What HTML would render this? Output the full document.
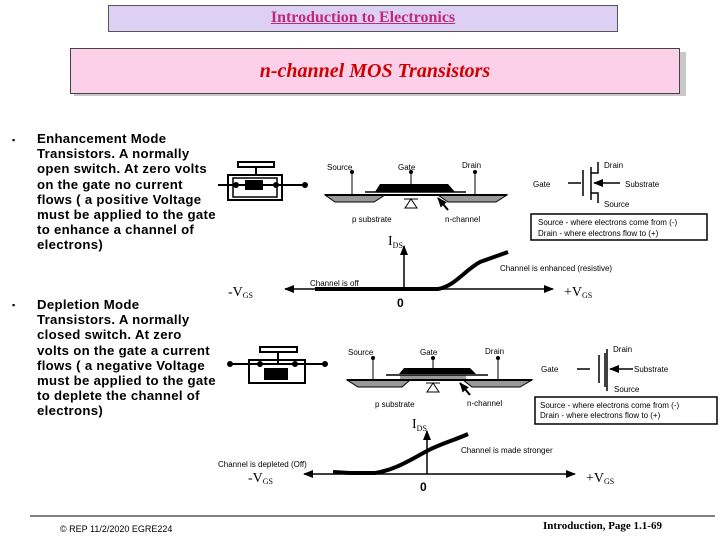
<!DOCTYPE html><html><head><style>
body{margin:0;width:720px;height:540px;background:#fff;position:relative;overflow:hidden;font-family:"Liberation Sans",sans-serif}
.t{position:absolute;color:#000}
</style></head><body>
<div style="position:absolute;left:108px;top:5px;width:508px;height:25px;background:#ddd0f4;border:1px solid #555;"></div>
<div class="t" style="left:108px;top:9px;width:510px;text-align:center;font-family:'Liberation Serif',serif;font-weight:bold;font-size:16px;color:#c0287a;text-decoration:underline">Introduction to Electronics</div>
<div style="position:absolute;left:74px;top:52px;width:612px;height:44px;background:#c8c8c8"></div>
<div style="position:absolute;left:70px;top:48px;width:608px;height:44px;background:#fbd0e8;border:1px solid #444"></div>
<div class="t" style="left:70px;top:60px;width:610px;text-align:center;font-family:'Liberation Serif',serif;font-weight:bold;font-style:italic;font-size:20px;color:#d00000">n-channel MOS Transistors</div>
<div class="t" style="left:12px;top:135px;font-size:9px">▪</div>
<div class="t" style="left:37px;top:131px;font-size:13.2px;line-height:15.2px;white-space:nowrap;font-weight:bold;letter-spacing:0.3px">Enhancement Mode<br>Transistors. A normally<br>open switch. At zero volts<br>on the gate no current<br>flows ( a positive Voltage<br>must be applied to the gate<br>to enhance a channel of<br>electrons)</div>
<div class="t" style="left:12px;top:300px;font-size:9px">▪</div>
<div class="t" style="left:37px;top:297px;font-size:13.2px;line-height:15.2px;white-space:nowrap;font-weight:bold;letter-spacing:0.3px">Depletion Mode<br>Transistors. A normally<br>closed switch. At zero<br>volts on the gate a current<br>flows ( a negative Voltage<br>must be applied to the gate<br>to deplete the channel of<br>electrons)</div>
<svg width="720" height="540" style="position:absolute;left:0;top:0" font-family="Liberation Sans,sans-serif" font-size="8">
<defs><marker id="a" markerUnits="userSpaceOnUse" markerWidth="10" markerHeight="8" refX="9" refY="4" orient="auto"><path d="M0,0L10,4L0,8z"/></marker></defs>
<rect x="238" y="162" width="36" height="5" fill="none" stroke="#000" stroke-width="2"/>
<line x1="256" y1="167" x2="256" y2="176" stroke="#000" stroke-width="2"/>
<rect x="228" y="175" width="54" height="25" fill="none" stroke="#000" stroke-width="2"/>
<rect x="233" y="178" width="44" height="19" fill="none" stroke="#000" stroke-width="1.5"/>
<line x1="218" y1="185" x2="305" y2="185" stroke="#000" stroke-width="2"/>
<circle cx="236" cy="185" r="3"/><circle cx="276" cy="185" r="3"/><circle cx="305" cy="185" r="3"/>
<rect x="245" y="180" width="18" height="10" fill="#000"/>
<path d="M325,195L507,195L496,202L448,202L438,195L385,195L374,202L335,202z" fill="#999" stroke="#000"/>
<line x1="325" y1="195" x2="507" y2="195" stroke="#000" stroke-width="2"/>
<path d="M375,192L380,184L448,184L455,192z" fill="#000"/>
<line x1="365" y1="192" x2="466" y2="192" stroke="#000" stroke-width="1.5"/>
<g stroke="#000"><line x1="352" y1="172" x2="352" y2="195"/><line x1="411" y1="172" x2="411" y2="184"/><line x1="475" y1="172" x2="475" y2="195"/></g>
<circle cx="352" cy="172" r="2"/><circle cx="411" cy="172" r="2"/><circle cx="475" cy="172" r="2"/>
<path d="M405,208L417,208L411,199z" fill="#fff" stroke="#000"/><line x1="404" y1="199" x2="418" y2="199" stroke="#000"/>
<line x1="448" y1="210" x2="438" y2="198" stroke="#000" stroke-width="2" marker-end="url(#a)"/>
<text x="327" y="170">Source</text><text x="398" y="170">Gate</text><text x="462" y="168">Drain</text>
<text x="352" y="222">p substrate</text><text x="445" y="222">n-channel</text>
<g stroke="#000" stroke-width="1.5" fill="none">
<line x1="568" y1="183" x2="581" y2="183"/><line x1="583" y1="170" x2="583" y2="196"/>
<line x1="591" y1="167" x2="591" y2="200"/><path d="M591,173L598,173L598,162"/><path d="M591,193L598,193L598,203"/>
<line x1="620" y1="183" x2="594" y2="183" marker-end="url(#a)"/></g>
<text x="604" y="168">Drain</text><text x="533" y="187">Gate</text><text x="625" y="187">Substrate</text><text x="604" y="207">Source</text>
<rect x="531" y="214" width="176" height="26" fill="#fff" stroke="#000" stroke-width="1.5"/>
<text x="538" y="225">Source - where electrons come from (-)</text><text x="538" y="236">Drain - where electrons flow to (+)</text>
<g stroke="#000" stroke-width="1.5"><line x1="404" y1="289" x2="285" y2="289" marker-end="url(#a)"/><line x1="404" y1="289" x2="553" y2="289" marker-end="url(#a)"/><line x1="404" y1="289" x2="404" y2="246" marker-end="url(#a)"/></g>
<path d="M315,289L438,289C455,286 465,270 480,262L508,252" fill="none" stroke="#000" stroke-width="4"/>
<text x="310" y="286">Channel is off</text><text x="500" y="271">Channel is enhanced (resistive)</text>
<text x="388" y="245" font-family="Liberation Serif,serif" font-size="14">I<tspan font-size="8" dy="3">DS</tspan></text>
<text x="228" y="296" font-family="Liberation Serif,serif" font-size="14">-V<tspan font-size="8" dy="2">GS</tspan></text>
<text x="564" y="296" font-family="Liberation Serif,serif" font-size="14">+V<tspan font-size="8" dy="2">GS</tspan></text>
<text x="397" y="307" font-size="12" font-weight="bold">0</text>
<rect x="260" y="347" width="37" height="5" fill="none" stroke="#000" stroke-width="2"/>
<line x1="278" y1="352" x2="278" y2="364" stroke="#000" stroke-width="2"/>
<rect x="249" y="360" width="56" height="23" fill="none" stroke="#000" stroke-width="2"/>
<line x1="230" y1="364" x2="325" y2="364" stroke="#000" stroke-width="2"/>
<circle cx="230" cy="364" r="3"/><circle cx="260" cy="364" r="3"/><circle cx="295" cy="364" r="3"/><circle cx="325" cy="364" r="3"/>
<rect x="264" y="368" width="24" height="12" fill="#000"/>
<path d="M347,380L532,380L520,387L472,387L463,380L410,380L402,387L358,387z" fill="#999" stroke="#000"/>
<rect x="400" y="375" width="66" height="5" fill="#999"/>
<line x1="347" y1="380" x2="532" y2="380" stroke="#000" stroke-width="2"/>
<path d="M399,374L404,368L470,368L476,374z" fill="#000"/>
<line x1="386" y1="375" x2="488" y2="375" stroke="#000" stroke-width="1.5"/>
<g stroke="#000"><line x1="373" y1="358" x2="373" y2="380"/><line x1="433" y1="358" x2="433" y2="368"/><line x1="498" y1="358" x2="498" y2="380"/></g>
<circle cx="373" cy="358" r="2"/><circle cx="433" cy="358" r="2"/><circle cx="498" cy="358" r="2"/>
<path d="M427,392L439,392L433,383z" fill="#fff" stroke="#000"/><line x1="426" y1="383" x2="440" y2="383" stroke="#000"/>
<line x1="470" y1="395" x2="460" y2="383" stroke="#000" stroke-width="2" marker-end="url(#a)"/>
<text x="348" y="355">Source</text><text x="420" y="355">Gate</text><text x="485" y="354">Drain</text>
<text x="375" y="407">p substrate</text><text x="467" y="406">n-channel</text>
<g stroke="#000" stroke-width="1.5" fill="none">
<line x1="577" y1="369" x2="590" y2="369"/><line x1="599" y1="355" x2="599" y2="383"/>
<line x1="605" y1="353" x2="605" y2="387"/><line x1="607" y1="349" x2="607" y2="391"/>
<line x1="633" y1="369" x2="610" y2="369" marker-end="url(#a)"/></g>
<text x="613" y="352">Drain</text><text x="541" y="372">Gate</text><text x="634" y="372">Substrate</text><text x="614" y="392">Source</text>
<rect x="535" y="397" width="182" height="27" fill="#fff" stroke="#000" stroke-width="1.5"/>
<text x="540" y="408">Source - where electrons come from (-)</text><text x="540" y="418">Drain - where electrons flow to (+)</text>
<g stroke="#000" stroke-width="1.5"><line x1="427" y1="474" x2="304" y2="474" marker-end="url(#a)"/><line x1="427" y1="474" x2="575" y2="474" marker-end="url(#a)"/><line x1="427" y1="474" x2="427" y2="431" marker-end="url(#a)"/></g>
<path d="M333,472L350,473L375,473C395,470 410,460 427,451C440,444 455,440 468,434" fill="none" stroke="#000" stroke-width="4"/>
<text x="218" y="467">Channel is depleted (Off)</text><text x="461" y="453">Channel is made stronger</text>
<text x="412" y="428" font-family="Liberation Serif,serif" font-size="14">I<tspan font-size="8" dy="3">DS</tspan></text>
<text x="248" y="482" font-family="Liberation Serif,serif" font-size="14">-V<tspan font-size="8" dy="2">GS</tspan></text>
<text x="586" y="482" font-family="Liberation Serif,serif" font-size="14">+V<tspan font-size="8" dy="2">GS</tspan></text>
<text x="420" y="491" font-size="12" font-weight="bold">0</text>
<line x1="30" y1="516" x2="715" y2="516" stroke="#000"/>
<text x="60" y="532" font-size="9">© REP  11/2/2020  EGRE224</text>
<text x="543" y="529" font-family="Liberation Serif,serif" font-size="11" font-weight="bold">Introduction, Page 1.1-69</text>
</svg>
</body></html>
